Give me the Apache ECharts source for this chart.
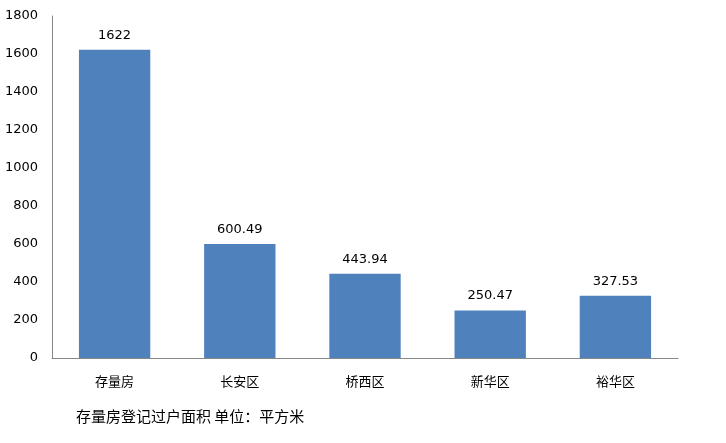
<!DOCTYPE html>
<html><head><meta charset="utf-8">
<script src="https://cdn.jsdelivr.net/npm/echarts@6/dist/echarts.min.js"></script>
<style>html,body{margin:0;padding:0;background:#fff}#c{width:726px;height:443px}</style>
</head><body><div id="c"></div>
<script>
var categories = ['存量房','长安区','桥西区','新华区','裕华区'];
var values = [1622, 600.49, 443.94, 250.47, 327.53];
var valueLabels = ['1622','600.49','443.94','250.47','327.53'];
var caption = '存量房登记过户面积 单位：平方米';
var cjk = '"Noto Sans CJK SC",sans-serif';
var num = '"DejaVu Sans",sans-serif';
var chart = echarts.init(document.getElementById('c'));
chart.setOption({
  animation: false,
  title: {text: caption, left: 76, top: 409, padding: 0, textStyle: {fontSize: 15, fontWeight: 'normal', color: '#000', fontFamily: cjk}},
  grid: {left: 52, right: 48, top: 16, bottom: 85},
  xAxis: {type: 'category', data: categories,
    axisLine: {lineStyle: {color: '#868686'}}, axisTick: {show: false},
    axisLabel: {color: '#000', fontSize: 13, margin: 17, fontFamily: cjk}},
  yAxis: {type: 'value', min: 0, max: 1800, interval: 200,
    axisLine: {show: true, lineStyle: {color: '#868686'}}, axisTick: {show: false},
    splitLine: {show: false},
    axisLabel: {color: '#000', fontSize: 13, margin: 14, fontFamily: num, formatter: function(v){return String(v);}}},
  series: [{type: 'bar', data: values, barWidth: '57%',
    itemStyle: {color: '#4F81BD'},
    label: {show: true, position: 'top', distance: 8, color: '#000', fontSize: 13, fontFamily: num,
      formatter: function(p){return valueLabels[p.dataIndex];}}}]
});
</script></body></html>
